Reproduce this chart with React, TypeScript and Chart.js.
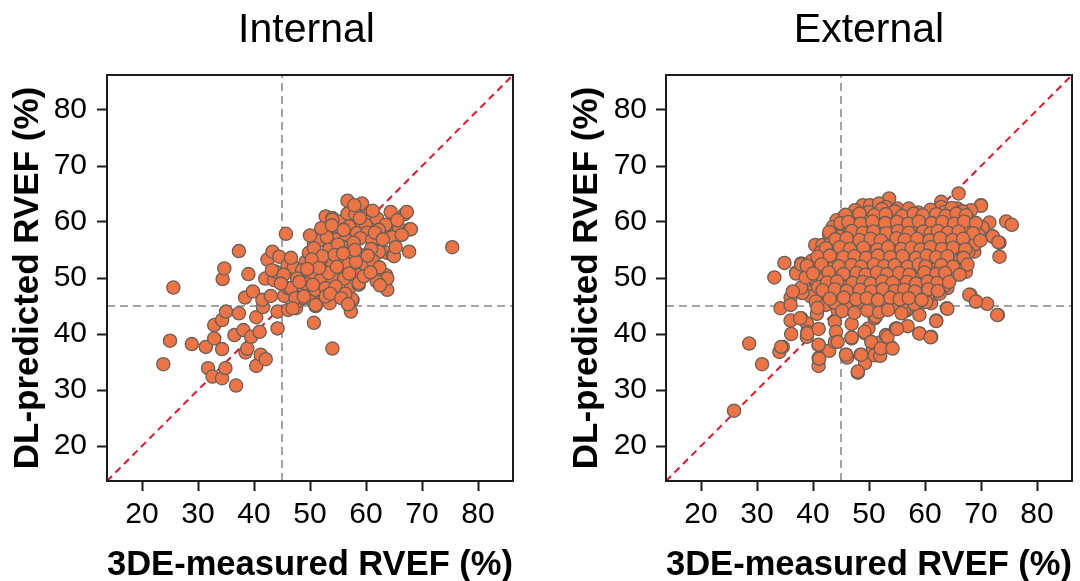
import { useEffect, useRef } from "react";
import { Chart, registerables } from "chart.js";

Chart.register(...registerables);

// ---------- data ----------
const AXIS_MIN = 13.75;
const AXIS_MAX = 86.25;
const TICK_VALUES = [20, 30, 40, 50, 60, 70, 80];
const CUTOFF = 45;

const TITLE_INTERNAL = "Internal";
const TITLE_EXTERNAL = "External";
const X_LABEL = "3DE-measured RVEF (%)";
const Y_LABEL = "DL-predicted RVEF (%)";

// [3DE-measured, DL-predicted]
const internalPoints: [number, number][] = [
  [23.8, 34.6], [25.0, 38.8], [25.6, 48.3], [28.9, 38.2], [31.4, 37.7], [31.8, 33.9], [32.9, 39.2], [32.9, 41.6],
  [32.6, 32.4], [34.3, 32.1], [34.9, 33.9], [34.3, 37.3], [34.3, 42.5], [34.4, 49.8], [34.7, 51.7], [35.0, 44.0],
  [36.8, 30.8], [36.5, 39.8], [37.3, 43.7], [37.3, 54.8], [38.1, 40.7], [38.4, 46.5], [38.5, 36.7], [38.8, 37.4],
  [39.0, 50.7], [39.5, 39.5], [39.8, 47.6], [40.4, 43.0], [40.4, 34.3], [41.0, 40.4], [41.2, 36.3], [42.1, 35.5],
  [41.6, 44.8], [41.5, 46.1], [42.0, 49.9], [43.0, 46.8], [42.4, 53.3], [43.3, 54.7], [44.5, 53.8], [43.6, 49.6],
  [44.2, 44.0], [44.2, 41.0], [43.9, 51.1], [43.2, 51.4], [45.7, 57.9], [45.4, 46.8], [46.1, 44.3], [46.0, 52.3],
  [46.1, 48.2], [47.2, 51.7], [47.5, 44.6], [47.8, 49.9], [47.9, 45.9], [48.8, 46.4], [48.9, 48.2], [49.2, 52.9],
  [49.8, 54.5], [49.9, 50.4], [50.4, 46.1], [50.7, 42.0], [51.0, 45.0], [50.7, 56.2], [51.3, 49.6], [51.5, 47.6],
  [51.9, 56.8], [52.8, 61.0], [52.8, 46.5], [53.4, 55.3], [53.5, 45.5], [53.7, 52.6], [54.0, 37.4], [54.3, 48.6],
  [54.0, 60.7], [54.7, 58.3], [55.2, 50.7], [55.3, 60.1], [56.1, 53.2], [56.4, 57.1], [56.7, 63.8], [56.7, 61.5],
  [57.1, 54.5], [57.3, 48.5], [57.4, 51.5], [57.6, 46.1], [57.3, 44.0], [58.1, 59.5], [58.3, 61.4], [58.7, 48.8],
  [59.0, 54.1], [59.3, 63.3], [59.9, 58.0], [60.2, 59.8], [60.8, 61.8], [59.9, 52.0], [61.7, 60.7], [62.0, 56.2],
  [62.6, 54.7], [62.9, 58.7], [63.6, 50.5], [63.8, 47.9], [63.8, 54.5], [64.0, 59.5], [64.4, 61.8], [64.8, 54.1],
  [65.9, 58.9], [66.9, 61.4], [67.3, 61.8], [67.7, 54.7], [67.8, 58.7], [75.4, 55.5],
  [54.0, 60.4], [58.1, 61.4], [60.5, 60.1], [62.0, 60.6], [59.9, 59.5], [57.0, 59.2], [63.5, 59.5], [68.0, 58.7],
  [53.1, 58.1], [55.2, 58.3], [58.4, 58.0], [60.2, 58.1], [62.3, 58.6], [54.6, 56.9], [56.4, 56.8], [59.0, 57.1],
  [61.1, 56.8], [50.7, 55.3], [53.4, 55.1], [55.8, 55.6], [57.3, 54.4], [62.3, 54.7], [65.0, 53.9], [51.9, 53.2],
  [55.8, 53.2], [47.1, 51.9], [48.6, 51.4], [50.7, 51.4], [52.5, 51.1], [55.2, 50.5], [60.0, 52.0], [58.7, 50.5],
  [63.8, 49.9], [47.7, 49.9], [50.1, 50.2], [51.9, 49.6], [54.0, 49.9], [56.1, 49.9], [46.6, 48.2], [51.0, 47.9],
  [52.8, 48.2], [54.6, 48.5], [58.7, 49.1], [47.4, 46.4], [48.9, 46.7], [51.0, 45.2], [52.8, 46.7], [57.5, 46.2],
  [46.9, 44.6], [53.0, 57.3], [55.0, 56.0], [57.8, 56.3], [60.9, 55.2], [52.2, 53.9], [54.4, 54.1], [56.8, 52.4],
  [58.2, 52.9], [61.3, 53.0], [50.3, 53.3], [45.3, 50.6], [44.8, 49.0], [46.6, 53.6], [49.3, 49.0], [53.3, 50.9],
  [56.3, 47.2], [59.6, 50.3], [61.9, 49.4], [62.4, 51.9], [65.6, 60.3], [61.2, 62.0], [57.9, 63.0], [64.6, 57.3],
  [66.4, 57.7],
  [50.0, 57.6], [52.0, 58.9], [53.9, 59.4], [56.0, 58.6], [58.9, 60.7], [61.6, 58.1], [63.0, 56.9], [65.3, 55.5],
  [60.3, 54.0], [58.0, 55.0], [55.9, 54.4], [51.6, 51.8], [49.5, 51.6], [48.1, 49.3], [50.5, 48.8], [54.8, 52.0],
  [57.0, 50.8], [60.8, 51.0], [62.5, 48.7], [53.6, 47.2], [55.6, 46.4], [56.8, 45.3],
];

const externalPoints: [number, number][] = [
  // sparse outer points
  [25.9, 26.3], [28.6, 38.3], [30.9, 34.6], [33.1, 50.1], [34.0, 36.8], [34.6, 37.7], [34.2, 44.6], [34.9, 52.7],
  [36.0, 46.5], [36.0, 42.4], [36.1, 40.0], [37.0, 51.0], [37.9, 42.8], [37.9, 52.6], [38.9, 41.9], [38.9, 39.5],
  [39.0, 47.6], [39.0, 40.4], [40.2, 49.8], [40.4, 55.9], [40.5, 52.6], [40.7, 43.6], [41.0, 38.0], [41.0, 35.7],
  [41.0, 34.3], [42.9, 37.0], [43.9, 38.6], [44.4, 44.3], [45.9, 36.3], [46.1, 35.8], [46.9, 41.8], [46.9, 39.2],
  [48.0, 33.1], [48.5, 36.3], [49.3, 34.8], [49.3, 40.1], [49.9, 41.0], [50.7, 37.4], [51.0, 36.2], [51.0, 42.8],
  [52.0, 36.1], [52.0, 38.5], [53.0, 39.8], [53.9, 37.7], [55.0, 41.0], [56.9, 41.4], [59.0, 40.1], [61.1, 39.5],
  [62.0, 42.4], [59.0, 43.4], [56.7, 44.2], [63.9, 44.6], [68.1, 47.0], [69.1, 45.8], [71.1, 45.4], [73.0, 43.4],
  [73.3, 53.8], [73.3, 56.3], [72.1, 57.4], [71.5, 59.9], [74.5, 60.1], [75.5, 59.5], [70.0, 63.0], [66.0, 65.1],
  [48.9, 63.0], [50.2, 63.0], [53.6, 64.2], [62.9, 63.6],
  // left part of the cloud
  [37.0, 50.8], [37.9, 52.4], [39.3, 52.3], [40.2, 49.9], [42.0, 54.4], [42.6, 52.3], [41.7, 55.9], [42.9, 57.7],
  [44.1, 55.6], [44.5, 52.9], [44.3, 58.9], [45.3, 60.7], [46.5, 60.4], [45.9, 58.3], [46.8, 56.8], [48.0, 58.6],
  [48.6, 55.6], [51.8, 63.3], [53.0, 62.7], [49.8, 60.7], [51.2, 61.3], [52.4, 60.1], [54.2, 60.7], [50.4, 58.6],
  [52.1, 57.4], [53.6, 58.6], [48.6, 53.8], [50.4, 54.7], [51.8, 52.3], [53.6, 54.1], [54.8, 52.9], [46.2, 52.0],
  [48.0, 50.8], [49.8, 50.5], [51.5, 50.8], [53.3, 49.4], [55.1, 50.2], [43.2, 49.3], [45.0, 48.7], [46.8, 49.3],
  [44.1, 47.3], [41.7, 47.6], [41.5, 46.1], [39.6, 46.7], [38.1, 47.3], [37.9, 48.3], [36.4, 47.6], [36.0, 45.2],
  [40.5, 45.8], [42.3, 45.2], [45.9, 46.1], [48.0, 45.2], [49.2, 47.0], [50.9, 47.6], [52.7, 46.1], [54.2, 47.0],
  [37.7, 42.8], [39.0, 40.1], [40.8, 44.7], [41.0, 40.9], [34.3, 37.7], [41.0, 38.1], [41.1, 35.6], [43.9, 42.2],
  [44.1, 40.4], [44.4, 38.6], [45.9, 36.3], [46.9, 39.4], [48.0, 33.3], [48.6, 36.3], [49.2, 40.4], [50.4, 38.6],
  [51.2, 43.1], [52.1, 37.4], [53.3, 39.5], [53.6, 44.6], [54.8, 41.0],
  // right part of the cloud
  [70.0, 62.9], [72.1, 57.4], [73.1, 56.4], [68.8, 54.7], [67.0, 52.3], [67.3, 51.1], [67.9, 47.0], [69.1, 45.8],
  [72.9, 43.4], [64.0, 44.5], [62.0, 42.3], [56.3, 44.1], [55.0, 40.9], [59.0, 40.1], [61.0, 39.4], [54.2, 37.4],
  [61.1, 45.5], [59.9, 45.8], [55.1, 62.4], [59.0, 61.3], [62.9, 62.7], [65.8, 62.4], [68.2, 62.1], [61.7, 59.2],
  [65.8, 59.5], [69.4, 58.9], [56.3, 58.9], [60.5, 57.1], [62.6, 55.9], [64.9, 55.0], [67.0, 56.5], [59.9, 54.1],
  [56.0, 52.9], [58.4, 51.1], [60.8, 51.1], [63.4, 51.7], [65.5, 50.8], [56.9, 49.0], [59.9, 48.8], [62.3, 48.2],
  [64.0, 48.2], [54.8, 49.3], [56.3, 46.7], [61.1, 47.0], [54.8, 45.8],
  // dense core
  [47.5, 62.1], [50.0, 61.8], [52.3, 62.3], [54.6, 61.9], [57.1, 62.4], [58.8, 61.7], [61.0, 62.2], [63.4, 61.8],
  [64.8, 62.5], [66.7, 61.9], [44.2, 60.3], [47.0, 60.8], [49.1, 60.2], [51.5, 60.6], [53.2, 60.9], [55.6, 60.3],
  [57.8, 60.7], [60.1, 60.4], [62.2, 60.9], [64.0, 60.2], [66.3, 60.6], [68.0, 60.3], [43.5, 59.1], [45.4, 58.8],
  [47.9, 59.3], [50.0, 58.9], [51.9, 59.2], [54.4, 58.7], [56.0, 59.4], [58.2, 58.9], [59.7, 59.2], [62.9, 58.8],
  [64.6, 59.1], [67.2, 58.7], [70.3, 59.0], [44.8, 57.4], [46.5, 57.7], [49.4, 57.3], [51.0, 57.8], [53.9, 57.4],
  [55.3, 57.6], [57.6, 57.2], [59.2, 57.7], [61.3, 57.5], [63.7, 57.3], [65.4, 57.8], [68.4, 57.4], [69.6, 57.7],
  [43.1, 56.1], [45.7, 55.8], [47.4, 56.3], [50.1, 56.0], [52.7, 56.2], [54.3, 55.7], [56.8, 56.1], [58.6, 55.9],
  [60.3, 56.3], [61.9, 55.8], [64.2, 56.2], [66.1, 55.7], [68.9, 56.0], [41.4, 54.6], [44.3, 54.3], [46.9, 54.7],
  [48.2, 54.4], [50.8, 54.6], [52.4, 54.3], [55.4, 54.8], [57.3, 54.4], [59.5, 54.6], [61.4, 54.2], [63.1, 54.7],
  [65.8, 54.4], [67.7, 54.6], [39.8, 53.1], [42.1, 52.8], [43.7, 53.3], [46.2, 53.0], [47.8, 52.7], [49.6, 53.2],
  [52.9, 52.9], [54.7, 53.1], [56.5, 52.8], [58.1, 53.3], [60.7, 52.9], [62.5, 53.1], [64.4, 52.8], [66.3, 53.2],
  [41.1, 51.4], [43.5, 51.7], [45.3, 51.3], [47.1, 51.6], [50.2, 51.8], [51.9, 51.3], [53.6, 51.6], [55.9, 51.4],
  [57.9, 51.7], [59.4, 51.3], [61.6, 51.5], [63.9, 51.8], [65.9, 51.4], [38.7, 50.1], [41.9, 49.8], [44.6, 50.2],
  [46.4, 49.9], [48.7, 50.1], [50.9, 49.7], [52.8, 50.2], [54.9, 49.9], [56.4, 50.3], [58.3, 49.8], [60.9, 50.1],
  [62.8, 49.7], [64.7, 50.2], [40.9, 48.4], [43.2, 48.7], [45.8, 48.3], [47.6, 48.6], [49.8, 48.4], [52.1, 48.7],
  [53.8, 48.3], [55.7, 48.6], [57.5, 48.4], [59.6, 48.7], [61.8, 48.3], [63.5, 48.6], [42.6, 47.1], [44.9, 46.8],
  [46.9, 47.2], [48.8, 46.9], [51.3, 47.1], [53.1, 46.8], [55.0, 47.2], [57.4, 46.9], [58.7, 47.1], [60.4, 46.8],
  [62.6, 47.2], [43.8, 45.6], [46.3, 45.4], [48.1, 45.7], [50.6, 45.5], [52.3, 45.8], [54.5, 45.3], [56.2, 45.6],
  [58.1, 45.4], [60.2, 45.7], [45.2, 44.1], [47.4, 43.8], [49.7, 44.2], [51.8, 43.9], [53.4, 44.3], [55.8, 43.7],
  // dense core, second layer
  [45.8, 61.3], [48.3, 61.5], [50.9, 61.2], [53.0, 61.4], [55.9, 61.1], [58.0, 61.5], [59.6, 61.2], [62.0, 61.4],
  [63.7, 61.1], [65.6, 61.5], [67.3, 61.2], [44.9, 59.8], [46.3, 60.0], [48.5, 59.7], [50.6, 60.1], [52.9, 59.8],
  [55.0, 60.0], [57.0, 59.7], [58.9, 60.1], [61.2, 59.8], [63.1, 60.0], [65.2, 59.7], [67.0, 60.1], [69.1, 59.8],
  [42.9, 58.2], [46.9, 58.4], [48.9, 58.1], [50.8, 58.3], [53.1, 58.0], [55.2, 58.4], [57.1, 58.1], [59.7, 58.3],
  [61.0, 58.0], [62.3, 58.4], [64.1, 58.1], [66.0, 58.3], [68.6, 58.0], [44.0, 56.9], [46.0, 57.1], [48.3, 56.8],
  [50.3, 57.0], [52.1, 56.7], [54.9, 57.1], [56.4, 56.8], [58.6, 57.0], [60.8, 56.7], [62.7, 57.1], [64.9, 56.8],
  [66.8, 57.0], [69.9, 56.7], [42.3, 55.3], [44.8, 55.5], [46.6, 55.2], [49.0, 55.4], [51.5, 55.1], [53.4, 55.5],
  [55.8, 55.2], [57.6, 55.4], [59.2, 55.1], [61.0, 55.5], [63.0, 55.2], [65.0, 55.4], [67.2, 55.1], [40.8, 53.8],
  [43.0, 54.0], [45.4, 53.7], [47.4, 53.9], [49.5, 53.6], [51.6, 54.0], [53.8, 53.7], [56.0, 53.9], [58.4, 53.6],
  [60.3, 54.0], [62.0, 53.7], [64.0, 53.9], [66.9, 53.6], [38.9, 52.2], [41.5, 52.4], [44.6, 52.1], [46.9, 52.3],
  [48.6, 52.0], [50.9, 52.4], [52.7, 52.1], [54.6, 52.3], [56.9, 52.0], [58.9, 52.4], [60.1, 52.1], [62.9, 52.3],
  [65.0, 52.0], [67.6, 52.4], [40.0, 50.8], [42.8, 51.0], [45.4, 50.7], [47.8, 50.9], [49.4, 50.6], [51.4, 51.0],
  [53.2, 50.7], [55.4, 50.9], [57.2, 50.6], [59.9, 51.0], [62.0, 50.7], [63.6, 50.9], [66.2, 50.6], [42.5, 49.2],
  [44.3, 49.4], [47.1, 49.1], [48.9, 49.3], [50.3, 49.0], [52.4, 49.4], [54.2, 49.1], [56.8, 49.3], [58.4, 49.0],
  [60.5, 49.4], [62.2, 49.1], [64.3, 49.3], [41.7, 47.8], [43.9, 48.0], [46.0, 47.7], [48.4, 47.9], [50.4, 47.6],
  [52.5, 48.0], [54.6, 47.7], [56.3, 47.9], [58.2, 47.6], [60.6, 48.0], [62.3, 47.7], [43.0, 46.3], [45.5, 46.5],
  [47.7, 46.2], [49.6, 46.4], [51.6, 46.1], [53.8, 46.5], [55.5, 46.2], [57.1, 46.4], [59.4, 46.1],
];

// ---------- styling ----------
const FONT = '"Liberation Sans", Arial, Helvetica, sans-serif';
const POINT_FILL = "#EE7446";
const POINT_EDGE = "#676059";
const CUTOFF_COLOR = "#a3a3a3";
const IDENTITY_COLOR = "#e0142a";

const panelTitle = {
  id: "panelTitle",
  afterDraw(chart: any, _args: any, opts: any) {
    const { ctx, chartArea } = chart;
    ctx.save();
    ctx.font = `41px ${FONT}`;
    ctx.fillStyle = "#000";
    ctx.textAlign = "center";
    ctx.textBaseline = "middle";
    ctx.fillText(opts.text, (chartArea.left + chartArea.right) / 2 + (opts.dx || 0), opts.y);
    ctx.restore();
  },
};

const frame = {
  id: "frame",
  afterDatasetsDraw(chart: any) {
    const { ctx, chartArea } = chart;
    ctx.save();
    ctx.strokeStyle = "#1b1b1b";
    ctx.lineWidth = 2;
    ctx.strokeRect(chartArea.left, chartArea.top, chartArea.right - chartArea.left, chartArea.bottom - chartArea.top);
    ctx.restore();
  },
};

type PanelProps = {
  points: [number, number][];
  title: string;
  titleDx: number;
  yAxisWidth: number;
  yTitleOffset: number;
  yTickPad: number;
  padRight: number;
};

function Panel({ points, title, titleDx, yAxisWidth, yTitleOffset, yTickPad, padRight }: PanelProps) {
  const ref = useRef<HTMLCanvasElement | null>(null);

  useEffect(() => {
    if (!ref.current) return;
    const tickValues = TICK_VALUES.map((v) => ({ value: v }));
    const chart = new Chart(ref.current, {
      type: "scatter",
      data: {
        datasets: [
          {
            data: points.map(([x, y]) => ({ x, y })),
            backgroundColor: POINT_FILL,
            borderColor: POINT_EDGE,
            borderWidth: 1.3,
            pointRadius: 6.6,
            order: 0,
          } as any,
          {
            type: "line",
            data: [
              { x: AXIS_MIN, y: AXIS_MIN },
              { x: AXIS_MAX, y: AXIS_MAX },
            ],
            borderColor: IDENTITY_COLOR,
            borderWidth: 2,
            borderDash: [7, 5],
            pointRadius: 0,
            order: 1,
          } as any,
          {
            type: "line",
            data: [
              { x: CUTOFF, y: AXIS_MIN },
              { x: CUTOFF, y: AXIS_MAX },
            ],
            borderColor: CUTOFF_COLOR,
            borderWidth: 2,
            borderDash: [8, 5],
            pointRadius: 0,
            order: 2,
          } as any,
          {
            type: "line",
            data: [
              { x: AXIS_MIN, y: CUTOFF },
              { x: AXIS_MAX, y: CUTOFF },
            ],
            borderColor: CUTOFF_COLOR,
            borderWidth: 2,
            borderDash: [8, 5],
            pointRadius: 0,
            order: 2,
          } as any,
        ],
      },
      options: {
        responsive: false,
        animation: false,
        events: [],
        layout: { padding: { top: 75, right: padRight, left: 0, bottom: 0 } },
        plugins: {
          legend: { display: false },
          tooltip: { enabled: false },
          panelTitle: { text: title, dx: titleDx, y: 30.5 },
        } as any,
        scales: {
          x: {
            type: "linear",
            min: AXIS_MIN,
            max: AXIS_MAX,
            afterBuildTicks: (s: any) => {
              s.ticks = tickValues.map((t) => ({ ...t }));
            },
            afterFit: (s: any) => {
              s.height = 100;
            },
            ticks: {
              font: { family: FONT, size: 30, lineHeight: 1 },
              color: "#000",
              padding: 9,
              maxRotation: 0,
              autoSkip: false,
            },
            grid: {
              display: true,
              drawOnChartArea: false,
              drawTicks: true,
              tickLength: 10,
              tickWidth: 2,
              tickColor: "#1b1b1b",
            },
            border: { display: false },
            title: {
              display: true,
              text: X_LABEL,
              color: "#000",
              font: { family: FONT, size: 35, weight: "bold", lineHeight: 0.8 },
              padding: { top: 0, bottom: 2 },
            },
          } as any,
          y: {
            type: "linear",
            min: AXIS_MIN,
            max: AXIS_MAX,
            afterBuildTicks: (s: any) => {
              s.ticks = tickValues.map((t) => ({ ...t }));
            },
            afterFit: (s: any) => {
              s.width = yAxisWidth;
            },
            ticks: {
              font: { family: FONT, size: 30, lineHeight: 1 },
              color: "#000",
              padding: yTickPad,
              autoSkip: false,
            },
            grid: {
              display: true,
              drawOnChartArea: false,
              drawTicks: true,
              tickLength: 10,
              tickWidth: 2,
              tickColor: "#1b1b1b",
            },
            border: { display: false },
            title: {
              display: true,
              text: Y_LABEL,
              color: "#000",
              font: { family: FONT, size: 35, weight: "bold", lineHeight: 0.8 },
              padding: { top: yTitleOffset - 14, bottom: 0 },
            },
          } as any,
        },
      },
      plugins: [panelTitle as any, frame as any],
    });
    return () => chart.destroy();
  }, [points, title, titleDx, yAxisWidth, yTitleOffset, yTickPad, padRight]);

  return <canvas ref={ref} width={540} height={581} style={{ display: "block", width: 540, height: 581 }} />;
}

export default function App() {
  return (
    <div style={{ position: "fixed", left: 0, top: 0, width: 1080, height: 581, background: "#fff", overflow: "hidden" }}>
      <div style={{ position: "absolute", left: 0, top: 0 }}>
        <Panel points={internalPoints} title={TITLE_INTERNAL} titleDx={-3.5} yAxisWidth={107} yTitleOffset={28} yTickPad={10} padRight={27} />
      </div>
      <div style={{ position: "absolute", left: 540, top: 0 }}>
        <Panel points={externalPoints} title={TITLE_EXTERNAL} titleDx={0} yAxisWidth={126} yTitleOffset={47} yTickPad={9} padRight={8} />
      </div>
    </div>
  );
}
